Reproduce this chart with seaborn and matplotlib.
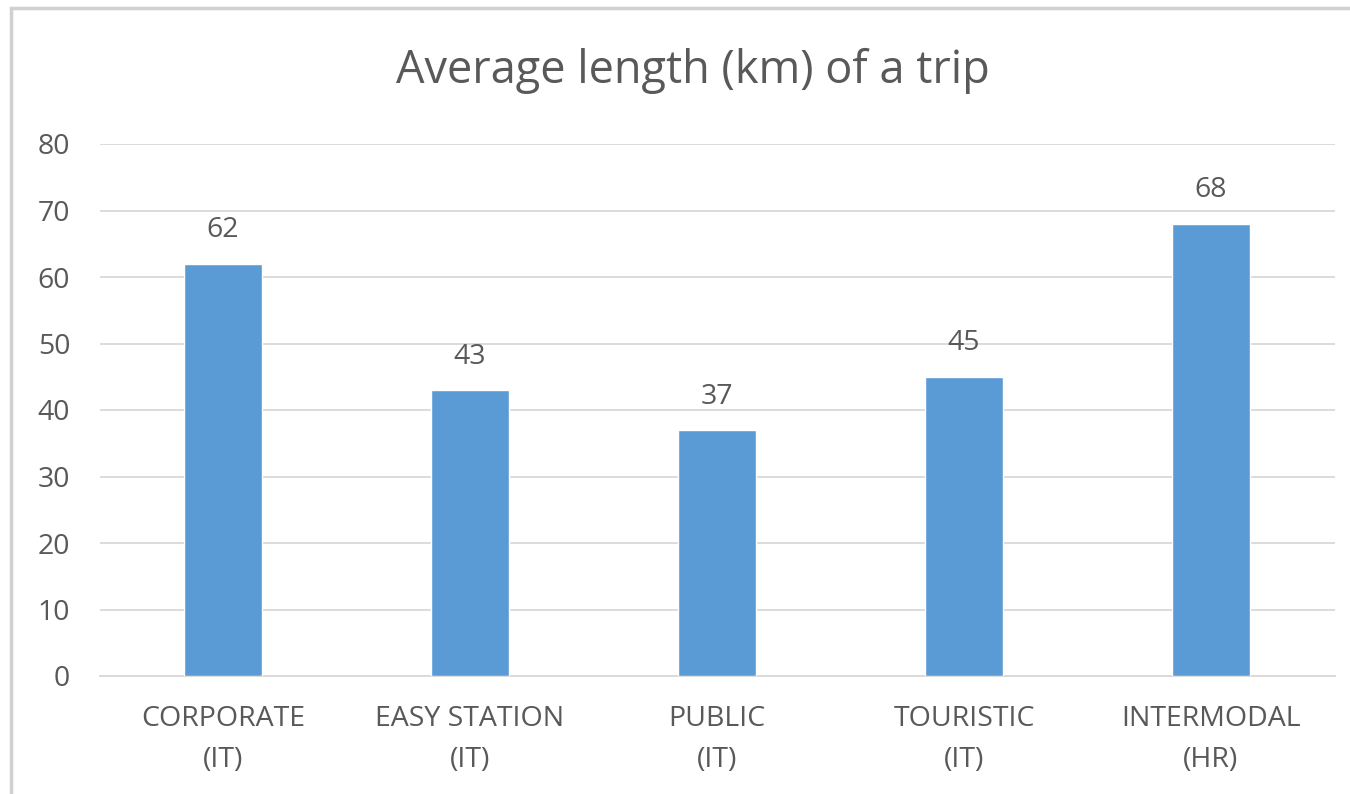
import matplotlib
matplotlib.use("Agg")
import matplotlib.pyplot as plt
import seaborn as sns
import pandas as pd
from matplotlib.patches import Rectangle

categories = ["CORPORATE\n(IT)", "EASY STATION\n(IT)", "PUBLIC\n(IT)", "TOURISTIC\n(IT)", "INTERMODAL\n(HR)"]
avg_length_km = [62, 43, 37, 45, 68]
y_ticks = [0, 10, 20, 30, 40, 50, 60, 70, 80]

TEXT = "#595959"
GRID = "#D9D9D9"
BAR = "#5B9BD5"

sns.set_theme(style="white")
plt.rcParams["font.family"] = ["Open Sans", "DejaVu Sans"]

df = pd.DataFrame({"category": categories, "km": avg_length_km})

fig = plt.figure(figsize=(13.5, 7.94), dpi=100)
fig.patch.set_facecolor("white")
fig.add_artist(Rectangle((11 / 1350, -0.01), 1.05, 1 - 8 / 794 + 0.01,
                         transform=fig.transFigure, fill=False,
                         edgecolor="#D0D0D0", linewidth=2.5))

ax = fig.add_axes([99.5 / 1350, 1 - 676 / 794, (1334.5 - 99.5) / 1350, (676 - 144) / 794])
sns.barplot(data=df, x="category", y="km", color=BAR, width=0.316,
            saturation=1, ax=ax, zorder=3)

ax.set_ylim(0, 80)
ax.set_xlim(-0.5, 4.5)
ax.set_yticks(y_ticks)
ax.yaxis.grid(True, color=GRID, linewidth=1.3, zorder=0)
ax.set_axisbelow(True)
for side in ["left", "right", "top"]:
    ax.spines[side].set_visible(False)
ax.spines["bottom"].set_color(GRID)
ax.spines["bottom"].set_linewidth(1.3)

ax.tick_params(axis="y", length=0, pad=21, labelsize=20.5, labelcolor=TEXT)
ax.tick_params(axis="x", length=0, pad=21, labelsize=20.5, labelcolor=TEXT)
for lbl in ax.get_xticklabels():
    lbl.set_linespacing(1.6)
ax.set_xlabel("")
ax.set_ylabel("")

for container in ax.containers:
    ax.bar_label(container, labels=[str(v) for v in avg_length_km],
                 padding=14, fontsize=20.5, color=TEXT)

fig.text(693 / 1350, 1 - 71 / 794, "Average length (km) of a trip", ha="center", va="center",
         fontsize=32.5, color=TEXT)

fig.savefig("out.png", dpi=100, facecolor="white")
